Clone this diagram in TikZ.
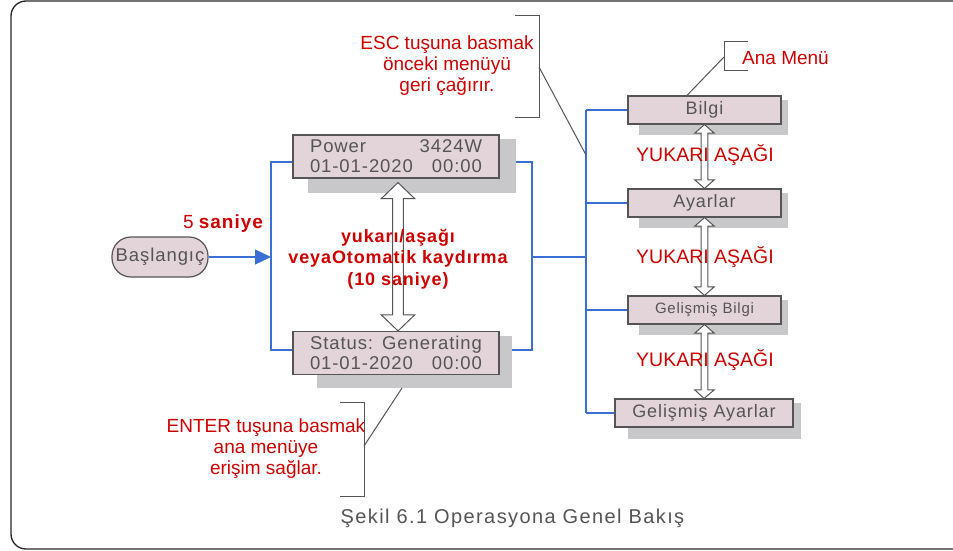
\documentclass[tikz,border=0pt]{standalone}
\usepackage{fontspec}
\setmainfont{Liberation Sans}
\newfontfamily\lcdfont[LetterSpace=5]{Liberation Sans}
\newfontfamily\capfont[LetterSpace=7]{Liberation Sans}
\usetikzlibrary{calc,backgrounds,arrows.meta}
\definecolor{boxfill}{HTML}{E3D4D9}
\definecolor{boxdraw}{HTML}{555555}
\definecolor{txtgray}{HTML}{555555}
\definecolor{shadowc}{HTML}{C8C8CA}
\definecolor{redc}{HTML}{D00000}
\definecolor{bluec}{HTML}{3B6FD4}
\tikzset{
  lcdbox/.style={draw=boxdraw,line width=1.2pt,fill=boxfill,text=txtgray,inner sep=0pt,
    minimum width=206pt,minimum height=43pt,align=left,
    font=\lcdfont\fontsize{18.5}{21}\selectfont},
  menubox/.style={draw=boxdraw,line width=1.2pt,fill=boxfill,text=txtgray,inner sep=0pt,
    minimum width=153pt,minimum height=28pt,font=\lcdfont\fontsize{18}{20}\selectfont},
  startbox/.style={draw=boxdraw,line width=1.2pt,fill=boxfill,text=txtgray,inner sep=0pt,
    minimum width=96pt,minimum height=40pt,rounded corners=19pt,
    font=\lcdfont\fontsize{18.5}{20}\selectfont},
  redtxt/.style={text=redc,align=center,inner sep=0pt,font=\fontsize{19}{21}\selectfont},
  redbold/.style={text=redc,align=center,inner sep=0pt,
    font=\lcdfont\bfseries\fontsize{18}{21.5}\selectfont},
  updown/.style={text=redc,inner sep=0pt,font=\fontsize{19.5}{21}\selectfont},
  blueline/.style={draw=bluec,line width=1.3pt},
  mainline/.style={draw=bluec,line width=1.9pt},
  leader/.style={draw=boxdraw,line width=1pt},
  arrowc/.style={draw=boxdraw,line width=1pt,fill=white,line join=miter},
  frame/.style={draw=black!85,line width=1.3pt,rounded corners=15pt}
}
\newcommand\hollowdbl[5]{%
  \draw[arrowc] let \p1=(#1), \p2=(#2) in
    (\p1) -- (\x1+#4,\y1-#5) -- (\x1+#3,\y1-#5) -- (\x1+#3,\y2+#5) -- (\x1+#4,\y2+#5)
    -- (\p2) -- (\x1-#4,\y2+#5) -- (\x1-#3,\y2+#5) -- (\x1-#3,\y1-#5) -- (\x1-#4,\y1-#5) -- cycle;}
\newcommand\shadowof[5]{%
  \fill[shadowc] ($(#1.north west)+(#2,#4)$) rectangle ($(#1.south east)+(#3,#5)$);}
\begin{document}
\begin{tikzpicture}[x=1pt,y=-1pt]
\useasboundingbox (0,0) rectangle (953,551);
\begin{scope}
\clip (0,0) rectangle (953,551);
\draw[frame] (11,1) rectangle (975,549);
\end{scope}

% nodes
\node[startbox] (start) at (160,257) {Başlangıç};
\node[lcdbox] (power) at (396,156.5) {\makebox[172pt]{Power\hfill 3424W}\\[-1pt]\makebox[172pt]{01-01-2020\hfill 00:00}};
\node[lcdbox] (status) at (396,353) {\makebox[172pt]{Status:\hfill Generating}\\[-1pt]\makebox[172pt]{01-01-2020\hfill 00:00}};
\node[menubox] (bilgi) at (704.5,110) {Bilgi};
\node[menubox] (ayarlar) at (704.5,203) {Ayarlar};
\node[menubox,font=\lcdfont\fontsize{15}{17}\selectfont] (gbilgi) at (704.5,310) {Gelişmiş Bilgi};
\node[menubox,minimum width=178pt] (gayarlar) at (704,413) {Gelişmiş Ayarlar};

\coordinate (jL) at (271,257);
\coordinate (jR) at (532,257);
\coordinate (jM) at (586,257);
\coordinate (vt) at (jM |- bilgi.west);
\coordinate (vb) at (jM |- gayarlar.west);

\begin{scope}[on background layer]
  \draw[blueline] ([yshift=-5.5pt]power.west) -| (jL) |- ([yshift=3pt]status.west);
  \draw[blueline] ([yshift=-5.5pt]power.east) -| (jR) |- ([yshift=3pt]status.east);
  \draw[blueline] (jR) -- (jM);
  \draw[mainline] (vt) -- (vb);
  \draw[blueline] (vt) -- (bilgi.west);
  \draw[blueline] (ayarlar.west -| vt) -- (ayarlar.west);
  \draw[blueline] (gbilgi.west -| vt) -- (gbilgi.west);
  \draw[blueline] (vb) -- (gayarlar.west);
  \shadowof{power}{16}{16}{5}{14}
  \shadowof{status}{25}{12}{5}{13}
  \shadowof{bilgi}{12}{6}{5}{10}
  \shadowof{ayarlar}{12}{6}{5}{10}
  \shadowof{gbilgi}{12}{6}{5}{10}
  \shadowof{gayarlar}{14}{7}{5}{11}
\end{scope}

\draw[blueline,-{Triangle[length=16pt,width=15pt]}] (start.east) -- (jL);

% hollow double arrows
\coordinate (pa) at ([xshift=2pt,yshift=-4pt]power.south);
\coordinate (pb) at ([xshift=2pt]status.north);
\hollowdbl{pa}{pb}{5.3pt}{16.7pt}{16pt}
\hollowdbl{bilgi.south}{ayarlar.north}{3.3pt}{9.7pt}{8.5pt}
\hollowdbl{ayarlar.south}{gbilgi.north}{3.3pt}{9.7pt}{8.5pt}
\hollowdbl{gbilgi.south}{gayarlar.north}{3.3pt}{9.7pt}{8.5pt}

% labels
\node[redtxt,anchor=base] (fivesec) at (223,228) {5 {\lcdfont\bfseries saniye}};
\node[redbold] (auto) at (398,259) {yukarı/aşağı\\veyaOtomatik kaydırma\\(10 saniye)};
\node[updown] (ud1) at (705,155) {YUKARI AŞAĞI};
\node[updown] (ud2) at (705,257) {YUKARI AŞAĞI};
\node[updown] (ud3) at (705,360) {YUKARI AŞAĞI};

\node[redtxt] (esc) at (447,66) {ESC tuşuna basmak\\önceki menüyü\\geri çağırır.};
\node[redtxt] (enter) at (266,449) {ENTER tuşuna basmak\\ana menüye\\erişim sağlar.};
\node[redtxt,anchor=west] (ana) at (742,58) {Ana Menü};
\node[text=txtgray,inner sep=0pt,anchor=base,font=\capfont\fontsize{20}{22}\selectfont] (cap) at (512.5,523) {Şekil 6.1 Operasyona Genel Bakış};

% brackets and leaders
\coordinate (escA) at (539,67);
\coordinate (escT) at (586,155);
\draw[leader] (515,16) -- (539,16) -- (539,117) -- (515,117);
\draw[leader] (escA) -- (escT);
\coordinate (entA) at (364,446);
\coordinate (entT) at (402,388);
\draw[leader] (340,402) -- (364,402) -- (364,496) -- (340,496);
\draw[leader] (entA) -- (entT);
\coordinate (anaA) at (724,57);
\draw[leader] (748,42) -- (724,42) -- (724,71) -- (748,71);
\draw[leader] (anaA) -- ([xshift=-17.5pt]bilgi.north);
\end{tikzpicture}
\end{document}
